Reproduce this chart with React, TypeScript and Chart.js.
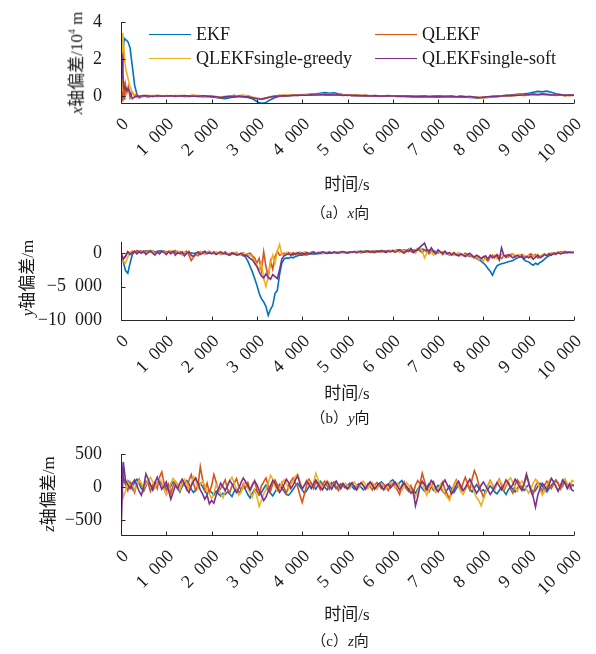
import React, { useEffect, useRef } from 'react';
import { Chart, registerables } from 'chart.js';
Chart.register(...registerables);

const SERIES_NAMES = ['EKF', 'QLEKF', 'QLEKFsingle-greedy', 'QLEKFsingle-soft'];
const COLORS = ['#0072BD', '#D95319', '#EDB120', '#7E2F8E'];
const X_TICKS = [0, 1000, 2000, 3000, 4000, 5000, 6000, 7000, 8000, 9000, 10000];
const Y1_TICKS = [0, 2, 4];
const Y2_TICKS = [-10000, -5000, 0];
const Y3_TICKS = [-500, 0, 500];

// ---------- panel (a): x deviation, unit 10^4 m ----------
const T_X_EARLY = [0, 20, 40, 60, 80, 100, 130, 160, 200, 250, 300, 350, 400, 450, 500];
const T_X_LATE_STEP = 100;
const T_X = [...T_X_EARLY, ...Array.from({ length: 95 }, (_, i) => 600 + i * T_X_LATE_STEP)];

const X_EKF = [
  0.0, 0.3, 1.5, 2.9, 3.1, 3.05, 3.0, 2.9, 2.6, 1.6, 0.6, 0.1, -0.1, -0.05, 0.0,
  -0.05, 0.0, -0.02, 0.0, -0.01,
  0.0, -0.02, 0.0, -0.03, -0.02, 0.0, -0.02, -0.04, -0.03, -0.05,
  -0.08, -0.12, -0.15, -0.1, -0.05, -0.03, -0.05, -0.08, -0.15, -0.3,
  -0.4, -0.35, -0.2, -0.08, -0.02, 0.0, 0.02, 0.03, 0.05, 0.06,
  0.08, 0.1, 0.12, 0.15, 0.18, 0.15, 0.17, 0.12, 0.08, 0.05,
  0.03, 0.02, 0.0, 0.01, -0.01, 0.0, -0.02, 0.0, -0.01, 0.0,
  -0.02, -0.03, -0.02, -0.04, -0.05, -0.06, -0.05, -0.04, -0.05, -0.06,
  -0.05, -0.04, -0.06, -0.05, -0.07, -0.06, -0.08, -0.1, -0.12, -0.1,
  -0.08, -0.05, -0.02, 0.0, 0.02, 0.05, 0.08, 0.1, 0.12, 0.15,
  0.2, 0.25, 0.22, 0.26, 0.2, 0.12, 0.08, 0.05, 0.03, 0.05,
];
const X_QLEKF = [
  2.0, 0.3, -0.3, 0.8, -0.2, 0.6, 0.2, 0.5, -0.1, 0.2, 0.0, 0.1, -0.05, 0.0, 0.02,
  0.02, -0.02, 0.03, 0.0, 0.02,
  -0.01, 0.02, 0.0, -0.02, 0.01, 0.03, 0.0, -0.02, 0.0, -0.03,
  -0.05, -0.1, -0.06, -0.02, 0.03, -0.02, -0.05, 0.02, -0.08, -0.12,
  -0.15, -0.1, -0.05, 0.0, 0.03, 0.0, 0.02, 0.05, 0.03, 0.05,
  0.06, 0.04, 0.08, 0.05, 0.1, 0.06, 0.08, 0.04, 0.06, 0.03,
  0.05, 0.02, 0.04, 0.0, 0.02, -0.01, 0.01, 0.0, 0.02, -0.01,
  0.0, -0.02, 0.01, -0.03, -0.01, -0.02, 0.0, -0.03, -0.01, -0.02,
  -0.03, 0.0, -0.02, -0.04, -0.01, -0.05, -0.03, -0.06, -0.1, -0.08,
  -0.05, -0.03, -0.01, 0.01, 0.03, 0.02, 0.05, 0.04, 0.06, 0.08,
  0.1, 0.08, 0.12, 0.09, 0.06, 0.03, 0.05, 0.02, 0.04, 0.03,
];
const X_GREEDY = [
  0.3, 2.0, 3.4, 2.6, 2.0, 1.5, 1.2, 0.9, 0.5, 0.2, 0.0, -0.1, 0.0, -0.05, 0.0,
  0.0, 0.03, -0.02, 0.02, 0.0,
  0.02, -0.01, 0.03, 0.0, -0.02, 0.02, 0.04, 0.0, -0.02, 0.0,
  -0.03, -0.06, -0.02, 0.0, -0.04, 0.02, 0.05, 0.0, -0.06, -0.1,
  -0.2, -0.12, -0.04, 0.0, 0.02, 0.05, 0.03, 0.06, 0.04, 0.07,
  0.05, 0.08, 0.06, 0.1, 0.07, 0.09, 0.05, 0.07, 0.04, 0.06,
  0.03, 0.05, 0.02, 0.04, 0.0, 0.02, 0.01, -0.01, 0.02, 0.0,
  -0.02, 0.01, -0.03, 0.0, -0.02, -0.04, -0.01, -0.03, 0.0, -0.02,
  -0.01, -0.04, -0.02, -0.05, -0.03, -0.02, -0.06, -0.04, -0.08, -0.12,
  -0.06, -0.03, -0.05, 0.0, 0.02, 0.0, 0.03, 0.05, 0.02, 0.06,
  0.08, 0.05, 0.1, 0.06, 0.08, 0.04, 0.06, 0.02, 0.05, 0.04,
];
const X_SOFT = [
  1.0, 2.3, 1.2, 0.5, 0.4, 0.45, 0.3, 0.4, 0.2, -0.15, -0.05, 0.0, -0.02, 0.0, 0.02,
  0.0, -0.02, 0.01, -0.01, 0.0,
  0.01, -0.01, 0.0, 0.02, -0.01, 0.0, -0.02, 0.01, -0.01, -0.02,
  -0.04, -0.08, -0.05, -0.02, -0.06, 0.0, -0.03, -0.05, -0.1, -0.15,
  -0.18, -0.12, -0.06, -0.02, 0.0, 0.02, 0.01, 0.04, 0.03, 0.05,
  0.04, 0.06, 0.05, 0.08, 0.06, 0.07, 0.05, 0.06, 0.03, 0.05,
  0.02, 0.04, 0.01, 0.03, 0.0, 0.02, 0.0, -0.01, 0.01, 0.0,
  -0.01, 0.0, -0.02, -0.01, -0.03, -0.02, -0.01, -0.03, -0.02, -0.01,
  -0.02, -0.03, -0.01, -0.04, -0.02, -0.05, -0.03, -0.06, -0.08, -0.06,
  -0.04, -0.02, -0.03, 0.0, 0.02, 0.01, 0.03, 0.04, 0.05, 0.07,
  0.09, 0.07, 0.1, 0.08, 0.06, 0.05, 0.07, 0.03, 0.05, 0.04,
];

// ---------- panel (b): y deviation, m (sampled every 50 s) ----------
const GRID_STEP_S = 50;
const Y_EKF = [
  0, -1300, -2600, -3000, -1500, -200, 200, 250, 300, 250, 200, 300, 350, 250, 300, 200, 250, 350, 300, 200,
  250, 150, 200, 100, 150, 50, 100, 0, 50, -50, 0, 50, -50, 0, 50, 0, -50, 0, 50, 0,
  50, 0, -50, 0, 50, 0, -50, -100, -50, -100, -150, -100, -200, -150, -250, -600, -1200, -2000, -2800, -3800,
  -4800, -6000, -6800, -7300, -8000, -9300, -8400, -7800, -6000, -5600, -3200, -1500, -900, -700, -750, -600, -700, -500, -400, -300,
  -300, -200, -250, -150, -100, -150, -50, -100, 0, -50, 0, 50, 0, 50, 100, 50, 100, 150, 100, 150,
  100, 150, 200, 150, 200, 250, 200, 250, 300, 250, 200, 300, 250, 300, 350, 300, 350, 300, 400, 350,
  400, 350, 450, 400, 500, 450, 400, 500, 550, 450, 400, 500, 450, 600, 500, 400, 450, 350, 300, 250,
  200, 100, 0, -50, -100, -150, -100, -200, -250, -300, -250, -350, -400, -350, -450, -550, -700, -800, -1000, -1200,
  -1500, -1800, -2300, -2700, -3300, -2500, -1900, -1700, -1600, -1500, -1400, -1300, -1200, -1100, -900, -700, -500, -600, -1000, -1200,
  -1300, -1600, -1800, -1500, -1700, -1400, -1200, -900, -600, -400, -250, -100, 0, 100, 50, 150, 100, 200, 150, 200,
  150,
];
const Y_QLEKF = [
  0, -800, -400, 200, 0, 300, 100, 400, 200, 300, 100, 350, 150, 400, 200, 100, 300, 0, 200, 350,
  100, 300, -100, 200, 400, 0, 250, -200, 100, 300, -300, -1100, -600, -200, -400, 0, 200, -100, 100, 300,
  0, 200, -100, 100, -200, 0, 200, -100, -300, 100, -50, 150, -200, -100, 50, -300, -100, 0, -400, -700,
  -1500, -800, -2600, 200, -2000, -3500, -1200, -2400, -500, 300, -300, -200, 0, -200, 100, -100, -300, 0, -200, 100,
  -100, 100, -200, 0, 150, -50, 100, 0, 150, 50, -50, 100, 200, 0, 100, 50, 150, 250, 100, 200,
  150, 50, 200, 100, 250, 150, 50, 200, 300, 150, 250, 100, 300, 200, 350, 150, 300, 250, 400, 300,
  350, 200, 500, 300, 450, 200, 350, 600, 250, 100, 400, 700, 300, 100, 450, 200, -100, 300, 100, 200,
  0, 200, -200, 100, 0, -300, -100, 100, -200, -400, -100, -300, 0, -200, -500, -300, -600, -400, -700, -900,
  -500, -800, -1200, -600, -300, -700, -200, -500, -800, -400, -300, -600, -200, -100, -400, -700, -500, -200, -400, -600,
  -300, -100, -400, -200, -700, -500, -300, -100, -400, -200, 0, -100, 100, 0, 200, 100, 0, 200, 100, 150,
  100,
];
const Y_GREEDY = [
  -300, -1200, -1500, -600, 0, 200, 300, 0, 200, 100, 300, 0, 250, 100, 300, -100, 200, 0, 150, 300,
  0, 200, 400, 100, -200, 300, 100, -300, 200, 0, 300, -400, -700, -200, 100, 300, 0, -200, 100, 200,
  100, -100, 200, 0, -200, 100, -100, 0, -300, -200, 0, 100, -100, -300, 0, -200, -400, -300, -600, -1200,
  -1800, -2500, -1500, -3800, -5000, -3500, -1500, -300, -1500, 300, 1300, -200, -300, 100, -200, 0, 100, -100, 0, 200,
  0, 200, 100, -100, 100, 200, 0, 100, 200, 0, 150, 50, 200, 100, 0, 150, 250, 100, 200, 50,
  200, 100, 250, 150, 300, 100, 200, 300, 150, 250, 350, 200, 100, 300, 200, 350, 250, 150, 300, 400,
  200, 450, 300, 100, 500, 350, 150, 400, 600, 200, 0, 500, 800, 300, -700, 0, 400, 200, -300, 100,
  300, 0, 200, -100, 100, -200, 0, -300, -100, 100, -400, -200, -500, -300, -100, -600, -800, -500, -1000, -700,
  -1200, -600, -900, -400, -700, -300, -800, -500, -200, -400, -700, -300, -500, -100, -600, -400, -200, -500, -300, -600,
  -400, -700, -300, -500, -200, -600, -400, -100, -300, 0, -200, 100, -100, 200, 0, 100, 300, 100, 200, 250,
  200,
];
const Y_SOFT = [
  0, -900, -500, 200, -200, 100, 300, -100, 200, 0, 300, -200, 100, 300, 0, -300, 200, -100, 300, 100,
  -200, 200, 0, 300, -300, 100, -100, 200, -400, 0, 200, -300, -500, -100, 200, -200, 0, 300, -100, 100,
  -100, 100, -200, 0, 200, -100, 0, -200, -300, 0, -100, -300, -200, 0, -400, -300, -500, -800, -1000, -1500,
  -2000, -2800, -3400, -3700, -3100, -3600, -3900, -3200, -3500, -3800, -2500, -900, -400, -200, -100, -300, 0, -200, 100, -100,
  0, -200, 100, -100, 0, 200, -100, 100, 0, 200, 100, -50, 150, 0, 200, 100, 0, 150, 250, 100,
  0, 200, 100, 250, 50, 200, 300, 100, 200, 350, 150, 250, 100, 300, 200, 400, 250, 100, 300, 200,
  400, 150, 300, 500, 200, 0, 400, 250, 700, 100, 300, 500, 900, 1200, 1500, 600, 200, 800, 300, -100,
  500, 200, 0, 300, -100, 100, -300, 0, -200, -400, -100, -300, -500, -200, 0, -400, -600, -300, -500, -800,
  -600, -400, -900, -300, -700, -500, -300, -1000, 800, -300, -600, -200, -400, -700, -500, -300, -600, -400, -800, -500,
  -700, -400, -900, -600, -300, -700, -500, -200, -400, -100, -300, 0, -200, 100, -100, 0, 200, 50, 150, 100,
  100,
];

// ---------- panel (c): z deviation, m (sampled every 50 s) ----------
const Z_EKF = [
  420, 150, 60, 100, 40, -30, 80, 120, 50, -20, -60, 20, 90, 30, -40, 10, 70, 110, 40, -10,
  30, -50, 20, 80, 40, -20, -70, 10, 60, 100, 50, -30, -80, -40, 20, 60, 10, -60, -100, -50,
  -80, -120, -60, -100, -130, -90, -110, -70, -100, -140, -60, -20, -80, -50, 10, -40, -110, -160, -90, -30,
  -60, -120, -80, -20, 30, -40, -90, -130, -70, -20, 40, -10, -60, -110, -120, -80, -30, 20, 60, 10,
  -40, -90, -50, 10, 60, 20, -30, 40, 90, 50, 0, -40, 20, 70, 30, -20, 10, 50, 20, -10,
  30, 60, 10, -30, 20, 50, 0, -40, -10, 40, 70, 30, -20, 10, 50, 80, 40, 0, 30, 90,
  110, 60, 20, 70, 100, 40, -20, -60, 10, -40, -90, -30, 30, -20, -60, 0, 50, 10, -50, -20,
  30, -10, -60, -100, -40, 20, -30, -80, -20, 40, 0, -50, -20, 30, -30, -70, -10, 40, -20, -60,
  -40, -80, -30, 20, -20, -70, -100, -50, 0, -60, -110, -40, 10, -30, -70, -20, 30, -10, -50, 0,
  40, -20, -80, -50, 10, 60, 20, -30, -70, -20, 30, 70, 100, 50, 0, 60, 90, 40, -10, 30,
  20,
];
const Z_QLEKF = [
  0, 100, 40, -50, 80, 20, -80, 60, 120, 30, -40, 90, 50, -60, 30, 80, -20, 150, 230, 60,
  -50, 40, -100, 20, 90, 40, -60, 80, 50, -30, 100, 190, 60, -50, 20, 310, 120, -40, 60, -80,
  20, 190, 80, -60, -20, 40, 110, -30, -80, 20, 60, 130, 20, -40, 50, -10, 70, -50, 30, 100,
  -40, -110, 20, 80, 140, 30, -60, 50, 110, 40, -30, 70, -10, -90, 20, 90, 140, 60, 10, -120,
  -230, -100, 40, 120, 60, -20, 80, 30, -40, 50, 90, 20, -30, 40, 80, 10, -50, 30, 60, 0,
  -20, 40, 70, 10, -40, 20, 60, 30, -30, 50, 10, -40, 30, 70, 20, -20, 40, 10, -50, 30,
  60, 20, -40, -110, 30, 80, -20, -60, 20, -90, 30, 100, 50, 210, 90, -20, -70, 10, 80, -30,
  -60, 20, 80, -30, -100, -180, -60, 40, 110, 20, -50, 60, 150, 60, -40, 120, 250, 170, 30, -60,
  -150, -60, 30, 100, 40, -30, 60, 120, 30, -50, 20, 80, -30, -90, 40, 110, 60, -20, 50, 160,
  60, -40, -100, 20, 80, 10, -60, 30, 90, 40, -20, 50, 110, 60, -30, 20, 80, 30, -20, 40,
  30,
];
const Z_GREEDY = [
  100, -150, -60, 80, 20, 50, -40, 30, 100, 60, -20, 40, 100, 150, 80, -10, 60, 120, 70, -40,
  -120, -50, 60, 130, 90, 20, -40, 50, 120, 60, -30, 30, 160, 100, -20, 40, 90, 20, -60, -100,
  -170, -90, 40, -20, -100, -160, -60, 30, 100, 150, 60, -20, -120, -80, 20, 80, -10, -90, -150, -40,
  -140, -290, -200, -100, -40, 60, 180, 120, 20, -60, -10, 60, 110, 60, -30, 40, 100, 160, 200, 90,
  -20, 30, 110, 80, 0, 60, 210, 120, 50, -20, 40, 100, 60, -10, 50, 90, 30, -30, 20, 60,
  20, -20, 40, 80, 30, -10, 50, 90, 40, -20, 30, 70, 20, -30, 40, 60, 10, -30, 20, 70,
  40, -10, 60, 20, -50, 10, 70, 30, -40, -100, -150, -60, 30, 80, -40, -120, -30, 50, -20, -80,
  -30, 40, -40, -100, -150, -200, -80, 30, 90, 20, -60, -110, -40, 50, 100, 20, -80, -160, -200, -280,
  -180, -90, 20, 90, 40, -30, 50, 110, 60, -20, 40, 100, 140, 70, 0, -60, 30, 90, 50, -30,
  -90, -20, 60, 120, 80, -40, -120, -60, 20, 90, 140, 80, 20, -60, 10, 100, 130, 60, -20, 100,
  80,
];
const Z_SOFT = [
  -700, 380, 100, 40, -20, 60, 110, 30, -60, -120, 0, 200, 120, 40, -40, 70, 150, 60, -30, 20,
  80, -50, -180, -80, 30, -20, 60, 120, 50, -30, -80, 20, 90, 140, 60, -40, -100, -180, -120, -250,
  -200, -240, -120, -30, 60, 10, -50, 20, 100, 50, -20, -80, -20, 70, 140, 80, 20, -40, 30, 90,
  40, -50, -120, -200, -150, -60, 20, 100, 60, -10, -80, -30, 40, 120, 70, -20, 30, 110, 170, 60,
  -30, 30, 90, 40, -20, 50, 110, 60, 0, -40, 30, 80, 20, -30, 40, 90, 30, -20, 50, 10,
  -30, 20, 60, 10, -40, 30, 70, 20, -20, 40, 80, 30, -30, 20, 60, 10, -40, 30, 50, -10,
  30, 80, 20, -40, 10, 60, 20, -30, -90, -60, -280, -150, 20, 90, 40, -40, 30, 100, 60, -10,
  -70, -20, 50, 110, 40, -30, -100, -40, 30, 90, 20, -50, -10, 60, 120, 50, -20, -90, -40, 30,
  80, 20, -40, -110, -60, 10, 70, 20, -40, 30, 110, 60, -10, 40, 120, 70, 0, -50, 60, 200,
  80, -60, -150, -300, -120, -20, 60, 20, -40, 40, 130, 80, 10, -60, 20, 110, 60, -20, 50, -40,
  -60,
];
const T_GRID = Y_EKF.map((_, i) => i * GRID_STEP_S);

const SERIF = "'Liberation Serif', 'Times New Roman', 'Noto Sans CJK SC', serif";
const AXIS_COLOR = '#262626';

function fmtNum(v: number): string {
  const neg = v < 0;
  const a = Math.abs(v);
  let s: string;
  if (a >= 1000) {
    s = Math.floor(a / 1000) + '\u2002' + String(a % 1000).padStart(3, '0');
  } else {
    s = String(a);
  }
  return (neg ? '\u2212' : '') + s;
}

const axesPlugin = {
  id: 'matlabAxes',
  afterDatasetsDraw(chart: any) {
    const { ctx, chartArea, scales } = chart;
    const { left, right, top, bottom } = chartArea;
    ctx.save();
    ctx.strokeStyle = AXIS_COLOR;
    ctx.lineWidth = 1;
    ctx.beginPath();
    const lx = Math.round(left) + 0.5;
    const by = Math.round(bottom) + 0.5;
    ctx.moveTo(lx, top);
    ctx.lineTo(lx, by);
    ctx.lineTo(right, by);
    for (const t of scales.y.ticks) {
      const py = Math.round(scales.y.getPixelForValue(t.value)) + 0.5;
      ctx.moveTo(lx, py);
      ctx.lineTo(lx + 4, py);
    }
    for (const t of scales.x.ticks) {
      const px = Math.round(scales.x.getPixelForValue(t.value)) + 0.5;
      ctx.moveTo(px, by);
      ctx.lineTo(px, by - 4);
    }
    ctx.stroke();
    ctx.restore();
  },
};

type PanelProps = {
  top: number;
  height: number;
  padTop: number;
  xHeight: number;
  times: number[];
  series: number[][];
  yMin: number;
  yMax: number;
  yTicks: number[];
};

function Panel({ top, height, padTop, xHeight, times, series, yMin, yMax, yTicks }: PanelProps) {
  const ref = useRef<HTMLCanvasElement | null>(null);
  useEffect(() => {
    if (!ref.current) return;
    const chart = new Chart(ref.current, {
      type: 'line',
      data: {
        datasets: series.map((vals, k) => ({
          label: SERIES_NAMES[k],
          data: times.map((t, i) => ({ x: t, y: vals[i] })),
          borderColor: COLORS[k],
          backgroundColor: COLORS[k],
          borderWidth: 1.6,
          pointRadius: 0,
          tension: 0,
          fill: false,
          order: 4 - k,
        })),
      },
      options: {
        responsive: false,
        devicePixelRatio: 1,
        animation: false,
        layout: { padding: { top: padTop, right: 22, left: 0, bottom: 0 } },
        plugins: { legend: { display: false }, tooltip: { enabled: false } },
        scales: {
          x: {
            type: 'linear',
            min: 0,
            max: 10000,
            grid: { display: false },
            border: { display: false },
            afterBuildTicks: (s: any) => {
              s.ticks = X_TICKS.map((v) => ({ value: v }));
            },
            afterFit: (s: any) => {
              s.height = xHeight;
              s.paddingLeft = 0;
              s.paddingRight = 0;
            },
            ticks: {
              autoSkip: false,
              minRotation: 45,
              maxRotation: 45,
              padding: 3,
              labelOffset: 5,
              color: '#1a1a1a',
              font: { family: SERIF, size: 18 },
              callback: (v: any) => fmtNum(Number(v)),
            },
          },
          y: {
            type: 'linear',
            min: yMin,
            max: yMax,
            grid: { display: false },
            border: { display: false },
            afterBuildTicks: (s: any) => {
              s.ticks = yTicks.map((v) => ({ value: v }));
            },
            afterFit: (s: any) => {
              s.width = 121;
            },
            ticks: {
              padding: 11,
              color: '#1a1a1a',
              font: { family: SERIF, size: 18 },
              callback: (v: any) => fmtNum(Number(v)),
            },
          },
        },
      },
      plugins: [axesPlugin],
    } as any);
    return () => chart.destroy();
  }, []);
  return (
    <canvas
      ref={ref}
      width={596}
      height={height}
      style={{ position: 'absolute', left: 0, top, width: 596, height }}
    />
  );
}

const textBase: React.CSSProperties = {
  position: 'absolute',
  fontFamily: SERIF,
  color: '#1a1a1a',
  whiteSpace: 'nowrap',
  lineHeight: 1,
};

function Centered({ x, y, size, rotate, children }: any) {
  return (
    <div
      style={{
        ...textBase,
        left: x,
        top: y,
        fontSize: size,
        transform: `translate(-50%, -50%)${rotate ? ' rotate(-90deg)' : ''}`,
      }}
    >
      {children}
    </div>
  );
}

function LegendItem({ x, y, color, label }: any) {
  return (
    <div style={{ ...textBase, left: x, top: y - 10, height: 20, display: 'flex', alignItems: 'center', fontSize: 18 }}>
      <div style={{ width: 42, height: 0, borderTop: `1.6px solid ${color}`, marginRight: 5 }} />
      <span>{label}</span>
    </div>
  );
}

export default function App() {
  return (
    <div style={{ position: 'absolute', left: 0, top: 0, width: 596, height: 654, background: '#fff', overflow: 'hidden' }}>
      <Panel top={0} height={175} padTop={22} xHeight={72} times={T_X}
        series={[X_EKF, X_QLEKF, X_GREEDY, X_SOFT]} yMin={-0.38} yMax={4} yTicks={Y1_TICKS} />
      <Panel top={220} height={175} padTop={16} xHeight={75} times={T_GRID}
        series={[Y_EKF, Y_QLEKF, Y_GREEDY, Y_SOFT]} yMin={-10000} yMax={1700} yTicks={Y2_TICKS} />
      <Panel top={430} height={175} padTop={24} xHeight={70} times={T_GRID}
        series={[Z_EKF, Z_QLEKF, Z_GREEDY, Z_SOFT]} yMin={-720} yMax={500} yTicks={Y3_TICKS} />

      <LegendItem x={149} y={34} color={COLORS[0]} label={SERIES_NAMES[0]} />
      <LegendItem x={375} y={34} color={COLORS[1]} label={SERIES_NAMES[1]} />
      <LegendItem x={149} y={58} color={COLORS[2]} label={SERIES_NAMES[2]} />
      <LegendItem x={375} y={58} color={COLORS[3]} label={SERIES_NAMES[3]} />

      <Centered x={76} y={63} size={17} rotate>
        <i>x</i>轴偏差/10<sup style={{ fontSize: 10, verticalAlign: 'super' }}>4</sup> m
      </Centered>
      <Centered x={27} y={278} size={17} rotate>
        <i>y</i>轴偏差/m
      </Centered>
      <Centered x={48} y={494} size={17} rotate>
        <i>z</i>轴偏差/m
      </Centered>

      <Centered x={347} y={184} size={17}>时间/s</Centered>
      <Centered x={347} y={393} size={17}>时间/s</Centered>
      <Centered x={347} y={614} size={17}>时间/s</Centered>

      <Centered x={340} y={213} size={15}>（a）<i>x</i>向</Centered>
      <Centered x={340} y={418} size={15}>（b）<i>y</i>向</Centered>
      <Centered x={340} y={641} size={15}>（c）<i>z</i>向</Centered>
    </div>
  );
}
